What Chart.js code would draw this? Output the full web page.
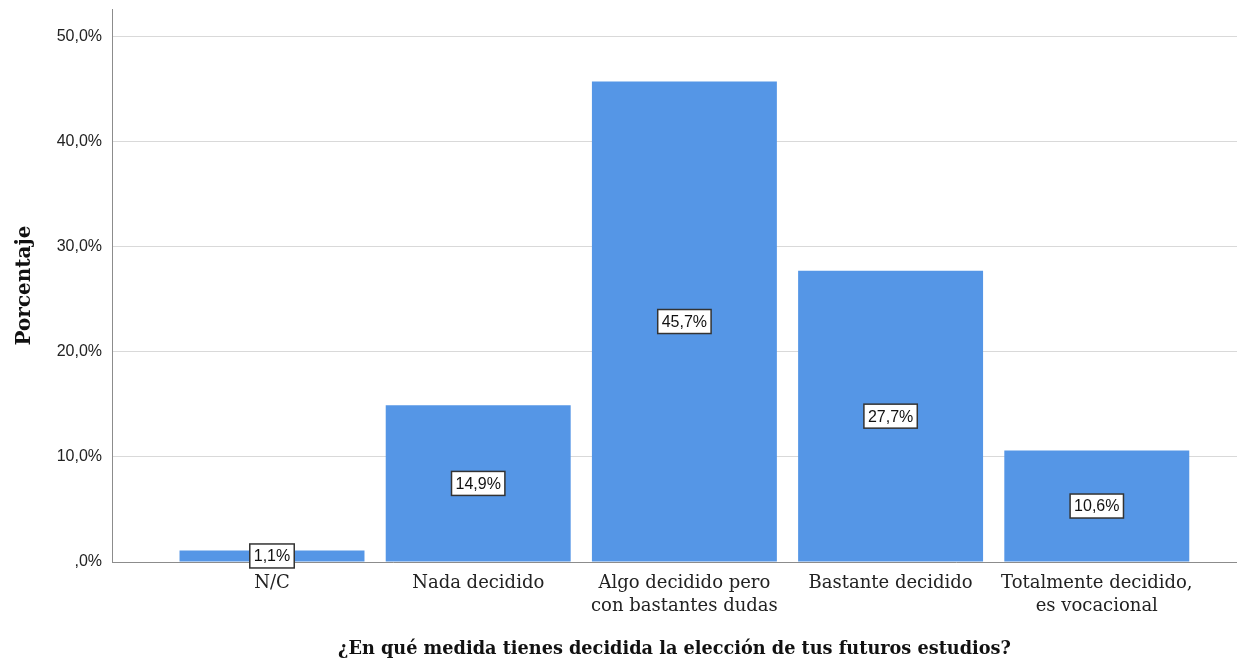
<!DOCTYPE html>
<html>
<head>
<meta charset="utf-8">
<script src="https://cdn.jsdelivr.net/npm/chart.js@4.4.1/dist/chart.umd.min.js"></script>
<style>
  html, body { margin: 0; padding: 0; background: #fff; }
  #wrap { width: 1237px; height: 662px; position: relative; }
</style>
</head>
<body>
<div id="wrap"><canvas id="grafico"></canvas></div>
<script>
const categorias = [
  'N/C',
  'Nada decidido',
  ['Algo decidido pero', 'con bastantes dudas'],
  'Bastante decidido',
  ['Totalmente decidido,', 'es vocacional']
];
const porcentajes = [1.1, 14.9, 45.7, 27.7, 10.6];
const ticksY = [0, 10, 20, 30, 40, 50];

const fmt = v => (v === 0 ? ',0' : v.toFixed(1).replace('.', ',')) + '%';

// etiquetas con caja blanca en el centro de cada barra
const etiquetas = {
  id: 'etiquetas',
  afterDatasetsDraw(chart) {
    const c = chart.ctx;
    const meta = chart.getDatasetMeta(0);
    c.save();
    c.font = '16px "Liberation Sans", Arial, sans-serif';
    c.textAlign = 'center';
    c.textBaseline = 'middle';
    meta.data.forEach((bar, i) => {
      const txt = fmt(porcentajes[i]);
      const cy = (bar.y + bar.base) / 2;
      const w = c.measureText(txt).width + 8;
      const h = 24;
      c.fillStyle = '#fff';
      c.fillRect(bar.x - w / 2, cy - h / 2, w, h);
      c.strokeStyle = '#333';
      c.lineWidth = 1.5;
      c.strokeRect(bar.x - w / 2, cy - h / 2, w, h);
      c.fillStyle = '#111';
      c.fillText(txt, bar.x, cy + 1);
    });
    c.restore();
  }
};

const ctx = document.getElementById('grafico').getContext('2d');

new Chart(ctx, {
  type: 'bar',
  data: {
    datasets: [{
      data: porcentajes.map((v, i) => ({ x: i + 1, y: v })),
      backgroundColor: '#5596e6',
      borderWidth: 0,
      categoryPercentage: 1,
      barPercentage: 0.897
    }]
  },
  options: {
    responsive: true,
    maintainAspectRatio: false,
    animation: false,
    layout: { padding: { top: 9, left: 0, right: 0, bottom: 0 } },
    plugins: {
      legend: { display: false },
      tooltip: { enabled: false }
    },
    scales: {
      x: {
        type: 'linear',
        offset: false,
        min: 0.224,
        max: 5.68,
        grid: { display: false, offset: false },
        border: { color: '#8c8c8c', width: 1 },
        afterBuildTicks: s => { s.ticks = categorias.map((c, i) => ({ value: i + 1 })); },
        afterFit: s => { s.height = 100; s.paddingLeft = 0; s.paddingRight = 0; },
        ticks: {
          autoSkip: false,
          maxRotation: 0,
          padding: 2,
          color: '#222',
          font: { family: '"DejaVu Serif", serif', size: 18, lineHeight: 1.28 },
          callback: v => categorias[v - 1]
        },
        title: {
          display: true,
          text: '¿En qué medida tienes decidida la elección de tus futuros estudios?',
          color: '#111',
          font: { family: '"DejaVu Serif", serif', size: 17.7, weight: 'bold' },
          padding: { top: 0, bottom: 2 }
        }
      },
      y: {
        min: 0,
        max: 52.6,
        grid: { color: '#d9d9d9', drawTicks: false },
        border: { color: '#8c8c8c', width: 1 },
        afterBuildTicks: s => { s.ticks = ticksY.map(v => ({ value: v })); },
        afterFit: s => { s.width = 112; s.paddingTop = 0; s.paddingBottom = 0; },
        ticks: {
          padding: 10,
          color: '#222',
          font: { family: '"Liberation Sans", Arial, sans-serif', size: 16 },
          callback: v => fmt(v)
        },
        title: {
          display: true,
          text: 'Porcentaje',
          color: '#111',
          font: { family: '"DejaVu Serif", serif', size: 20, weight: 'bold' },
          padding: { top: 13, bottom: 0 }
        }
      }
    }
  },
  plugins: [etiquetas]
});
</script>
</body>
</html>
